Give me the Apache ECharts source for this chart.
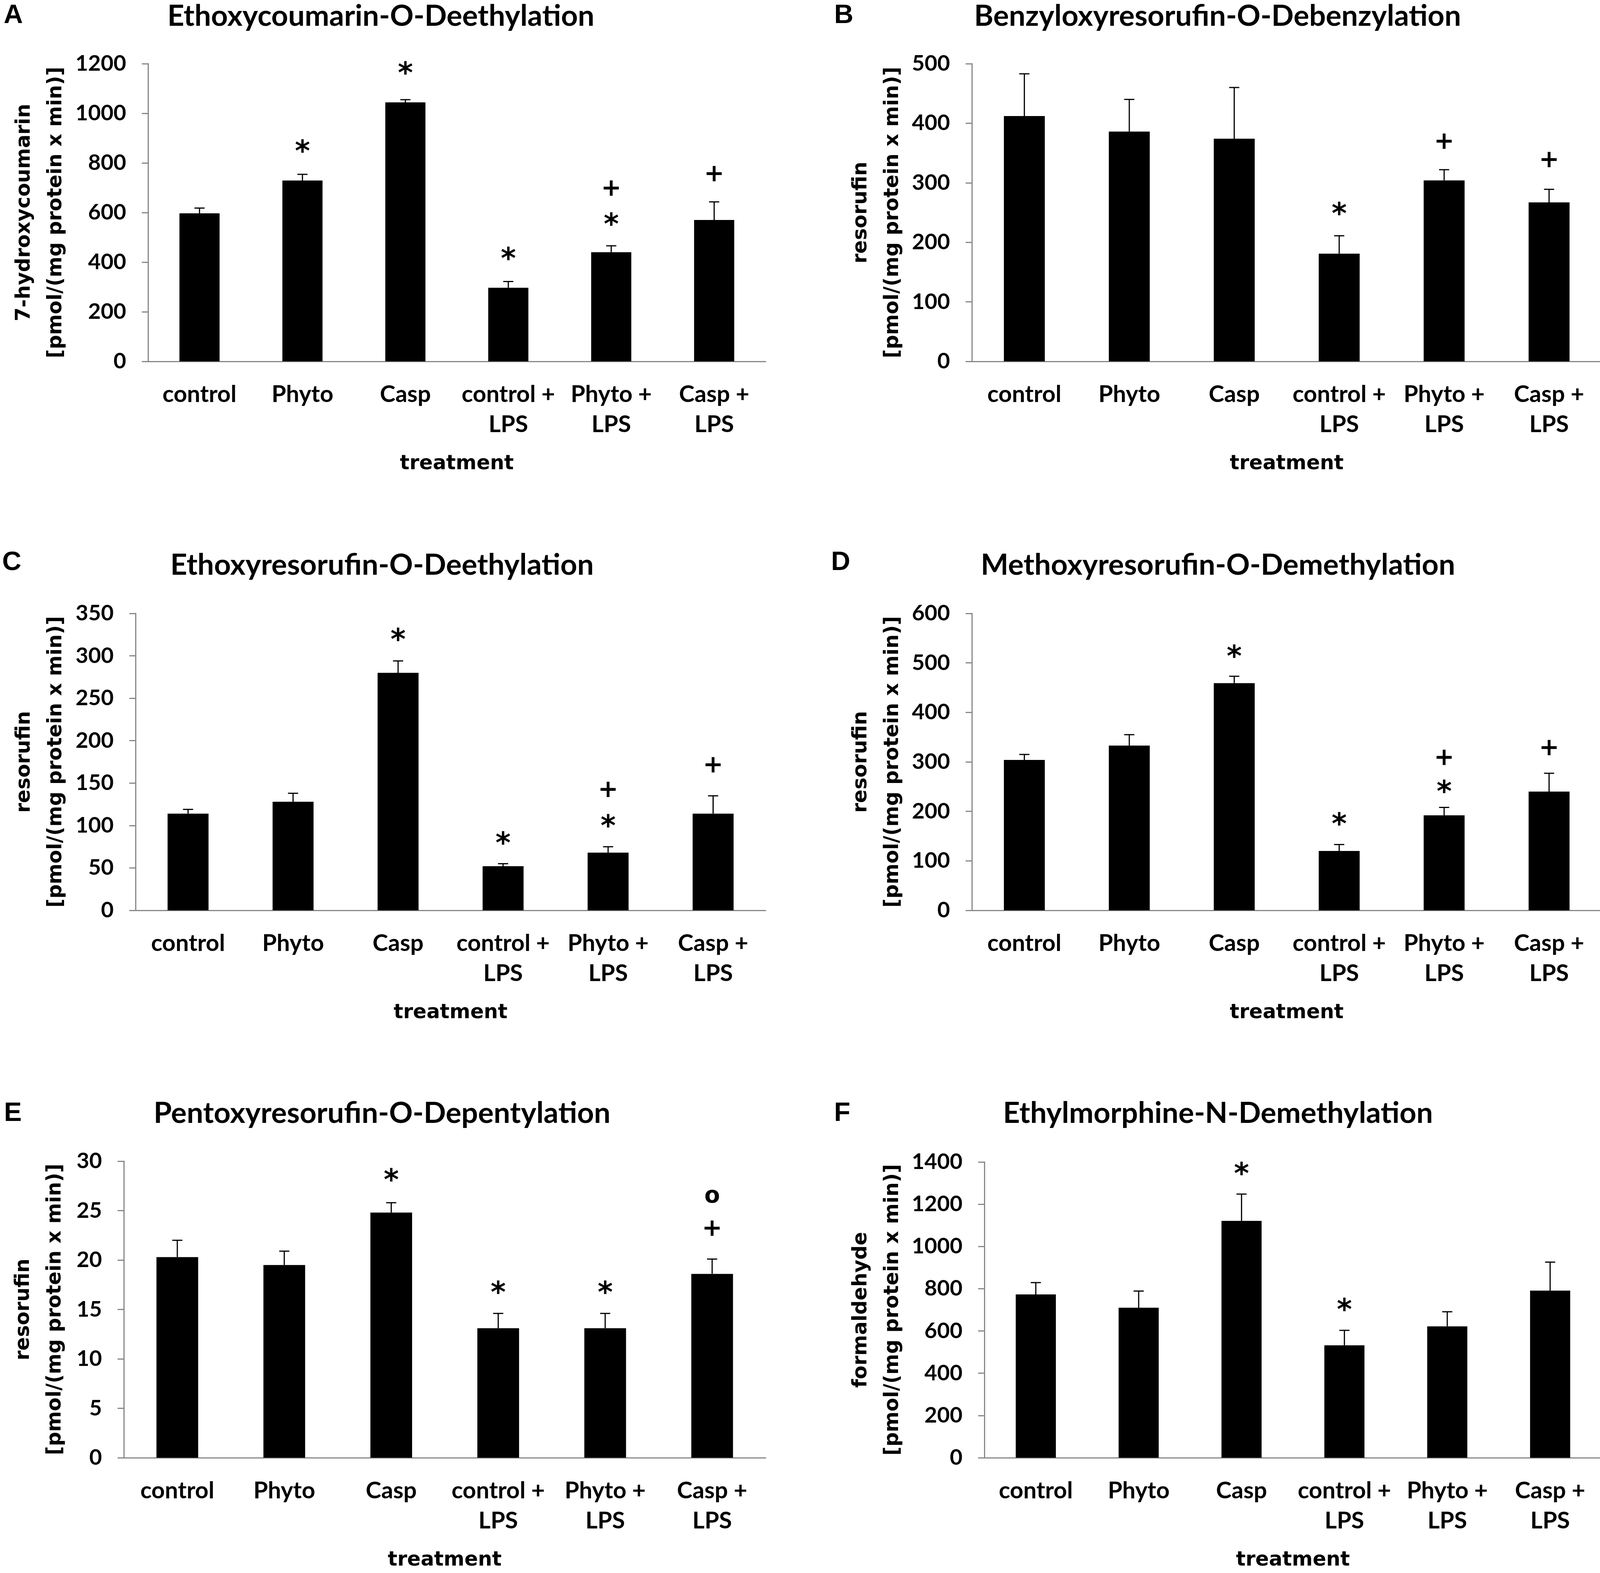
<!DOCTYPE html>
<html>
<head>
<meta charset="utf-8">
<script src="https://cdn.jsdelivr.net/npm/echarts@6/dist/echarts.min.js"></script>
<style>
html,body{margin:0;padding:0;background:#fff;}
#chart{width:4111px;height:4026px;}
</style>
</head>
<body>
<div id="chart"></div>
<script>
// ---------- data ----------
const categories = ['control', 'Phyto', 'Casp', 'control +\nLPS', 'Phyto +\nLPS', 'Casp +\nLPS'];
const panelLetters = ['A', 'B', 'C', 'D', 'E', 'F'];
const titles = [
  'Ethoxycoumarin-O-Deethylation',
  'Benzyloxyresorufin-O-Debenzylation',
  'Ethoxyresorufin-O-Deethylation',
  'Methoxyresorufin-O-Demethylation',
  'Pentoxyresorufin-O-Depentylation',
  'Ethylmorphine-N-Demethylation'
];
const yNames = [
  '7-hydroxycoumarin\n[pmol/(mg protein x min)]',
  'resorufin\n[pmol/(mg protein x min)]',
  'resorufin\n[pmol/(mg protein x min)]',
  'resorufin\n[pmol/(mg protein x min)]',
  'resorufin\n[pmol/(mg protein x min)]',
  'formaldehyde\n[pmol/(mg protein x min)]'
];
const xName = 'treatment';
const yMax = [1200, 500, 350, 600, 30, 1400];
const yInterval = [200, 100, 50, 100, 5, 200];

// means and (upper) error amounts
const meanA = [597, 729, 1044, 297, 440, 570];
const errA  = [21, 25, 11, 25, 26, 73];
const meanB = [412, 386, 374, 181, 304, 267];
const errB  = [71, 54, 86, 30, 18, 22];
const meanC = [114, 128, 280, 52, 68, 114];
const errC  = [5, 10, 14, 3, 7, 21];
const meanD = [304, 333, 459, 120, 192, 240];
const errD  = [11, 22, 14, 13, 16, 37];
const meanE = [20.3, 19.5, 24.8, 13.1, 13.1, 18.6];
const errE  = [1.7, 1.4, 1.0, 1.5, 1.5, 1.5];
const meanF = [773, 710, 1121, 532, 622, 791];
const errF  = [56, 79, 127, 71, 69, 135];

// significance marks: [category index, y value of mark centre, symbol]
const sigA = [[1, 867, '*'], [2, 1181, '*'], [3, 433, '*'], [4, 572, '*'], [4, 697, '+'], [5, 754, '+']];
const sigB = [[3, 256, '*'], [4, 369, '+'], [5, 338, '+']];
const sigC = [[2, 325, '*'], [3, 85, '*'], [4, 105, '*'], [4, 142, '+'], [5, 171, '+']];
const sigD = [[2, 523, '*'], [3, 184, '*'], [4, 250, '*'], [4, 308, '+'], [5, 328, '+']];
const sigE = [[2, 28.6, '*'], [3, 17.2, '*'], [4, 17.2, '*'], [5, 23.15, '+'], [5, 26.3, 'o']];
const sigF = [[2, 1368, '*'], [3, 724, '*']];

const means = [meanA, meanB, meanC, meanD, meanE, meanF];
const errs = [errA, errB, errC, errD, errE, errF];
const sigs = [sigA, sigB, sigC, sigD, sigE, sigF];

// ---------- layout (pixels) ----------
const grids = [
  {left: 379, top: 163, right: 2151, bottom: 3101},
  {left: 2488, top: 163, right: 11, bottom: 3101},
  {left: 347, top: 1570, right: 2151, bottom: 1696},
  {left: 2488, top: 1570, right: 11, bottom: 1696},
  {left: 317, top: 2972, right: 2151, bottom: 290},
  {left: 2520, top: 2974, right: 11, bottom: 293}
];
const yNameGaps = [195, 162, 163, 162, 135, 194];
const titlePos = [[975, 42], [3117, 42], [978, 1447], [3118, 1447], [978, 2850], [3118, 2850]];
const letterPos = [[34, 40], [2160, 40], [30, 1440], [2152, 1440], [33, 2850], [2156, 2850]];

const axisGray = '#888888';
const catFont = 'Lato, "Open Sans", sans-serif';
const nameFont = '"DejaVu Sans", Verdana, sans-serif';

const xAxes = [], yAxes = [], series = [], graphics = [];

for (let i = 0; i < 6; i++) {
  xAxes.push({
    type: 'category', gridIndex: i, data: categories,
    axisLine: {lineStyle: {color: axisGray, width: 3}},
    axisTick: {show: false},
    axisLabel: {color: '#000', fontFamily: catFont, fontWeight: 'bold', fontSize: 60, lineHeight: 77, margin: 46, interval: 0},
    name: xName, nameLocation: 'middle', nameGap: 232,
    nameTextStyle: {color: '#000', fontFamily: nameFont, fontWeight: 'bold', fontSize: 51, lineHeight: 62}
  });
  yAxes.push({
    type: 'value', gridIndex: i, min: 0, max: yMax[i], interval: yInterval[i],
    axisLine: {show: true, lineStyle: {color: axisGray, width: 3}},
    axisTick: {show: true, length: 16, lineStyle: {color: axisGray, width: 3}},
    splitLine: {show: false},
    axisLabel: {color: '#000', fontFamily: catFont, fontWeight: 'bold', fontSize: 56, margin: 56,
      formatter: function (v) { return String(v); }},
    name: yNames[i], nameLocation: 'middle', nameGap: yNameGaps[i], nameRotate: 90,
    nameTextStyle: {color: '#000', fontFamily: nameFont, fontWeight: 'bold', fontSize: 51, lineHeight: 81, align: 'center'}
  });
  series.push({
    type: 'bar', xAxisIndex: i, yAxisIndex: i, data: means[i],
    barWidth: '39%', itemStyle: {color: '#000'}, silent: true
  });
  const m = means[i], e = errs[i];
  series.push({
    type: 'custom', xAxisIndex: i, yAxisIndex: i, z: 5, silent: true,
    data: m.map((v, k) => [k, v, e[k]]),
    renderItem: function (params, api) {
      const x = api.value(0), v = api.value(1), er = api.value(2);
      const p0 = api.coord([x, v]);
      const p1 = api.coord([x, v + er]);
      const st = {stroke: '#000', lineWidth: 3};
      return {
        type: 'group',
        children: [
          {type: 'line', shape: {x1: p0[0], y1: p0[1], x2: p1[0], y2: p1[1]}, style: st},
          {type: 'line', shape: {x1: p1[0] - 13, y1: p1[1], x2: p1[0] + 13, y2: p1[1]}, style: st}
        ]
      };
    }
  });
  const sg = sigs[i];
  series.push({
    type: 'custom', xAxisIndex: i, yAxisIndex: i, z: 6, silent: true,
    data: sg.map(s => [s[0], s[1]]),
    renderItem: function (params, api) {
      const sym = sg[params.dataIndex][2];
      const p = api.coord([api.value(0), api.value(1)]);
      let fs = 74, fw = 'bold', dy = 18;
      if (sym === '+') { fs = 62; fw = 'bold'; dy = 2; }
      if (sym === 'o') { fs = 58; fw = 'bold'; dy = -3; }
      return {
        type: 'text', x: p[0], y: p[1] + dy,
        style: {text: sym, fill: '#000', fontSize: fs, fontWeight: fw, fontFamily: nameFont, align: 'center', verticalAlign: 'middle'}
      };
    }
  });
  graphics.push({
    type: 'text', x: titlePos[i][0], y: titlePos[i][1],
    style: {text: titles[i], fill: '#000', fontSize: 75, fontWeight: 'bold', fontFamily: catFont, align: 'center', verticalAlign: 'middle'}
  });
  graphics.push({
    type: 'text', x: letterPos[i][0], y: letterPos[i][1],
    style: {text: panelLetters[i], fill: '#000', fontSize: 68, fontWeight: 'bold', fontFamily: '"Liberation Sans", Arial, sans-serif', align: 'center', verticalAlign: 'middle'}
  });
}

const chart = echarts.init(document.getElementById('chart'), null, {renderer: 'canvas'});
chart.setOption({
  backgroundColor: '#fff',
  animation: false,
  grid: grids.map(g => Object.assign({containLabel: false}, g)),
  xAxis: xAxes,
  yAxis: yAxes,
  series: series,
  graphic: graphics
});
</script>
</body>
</html>
